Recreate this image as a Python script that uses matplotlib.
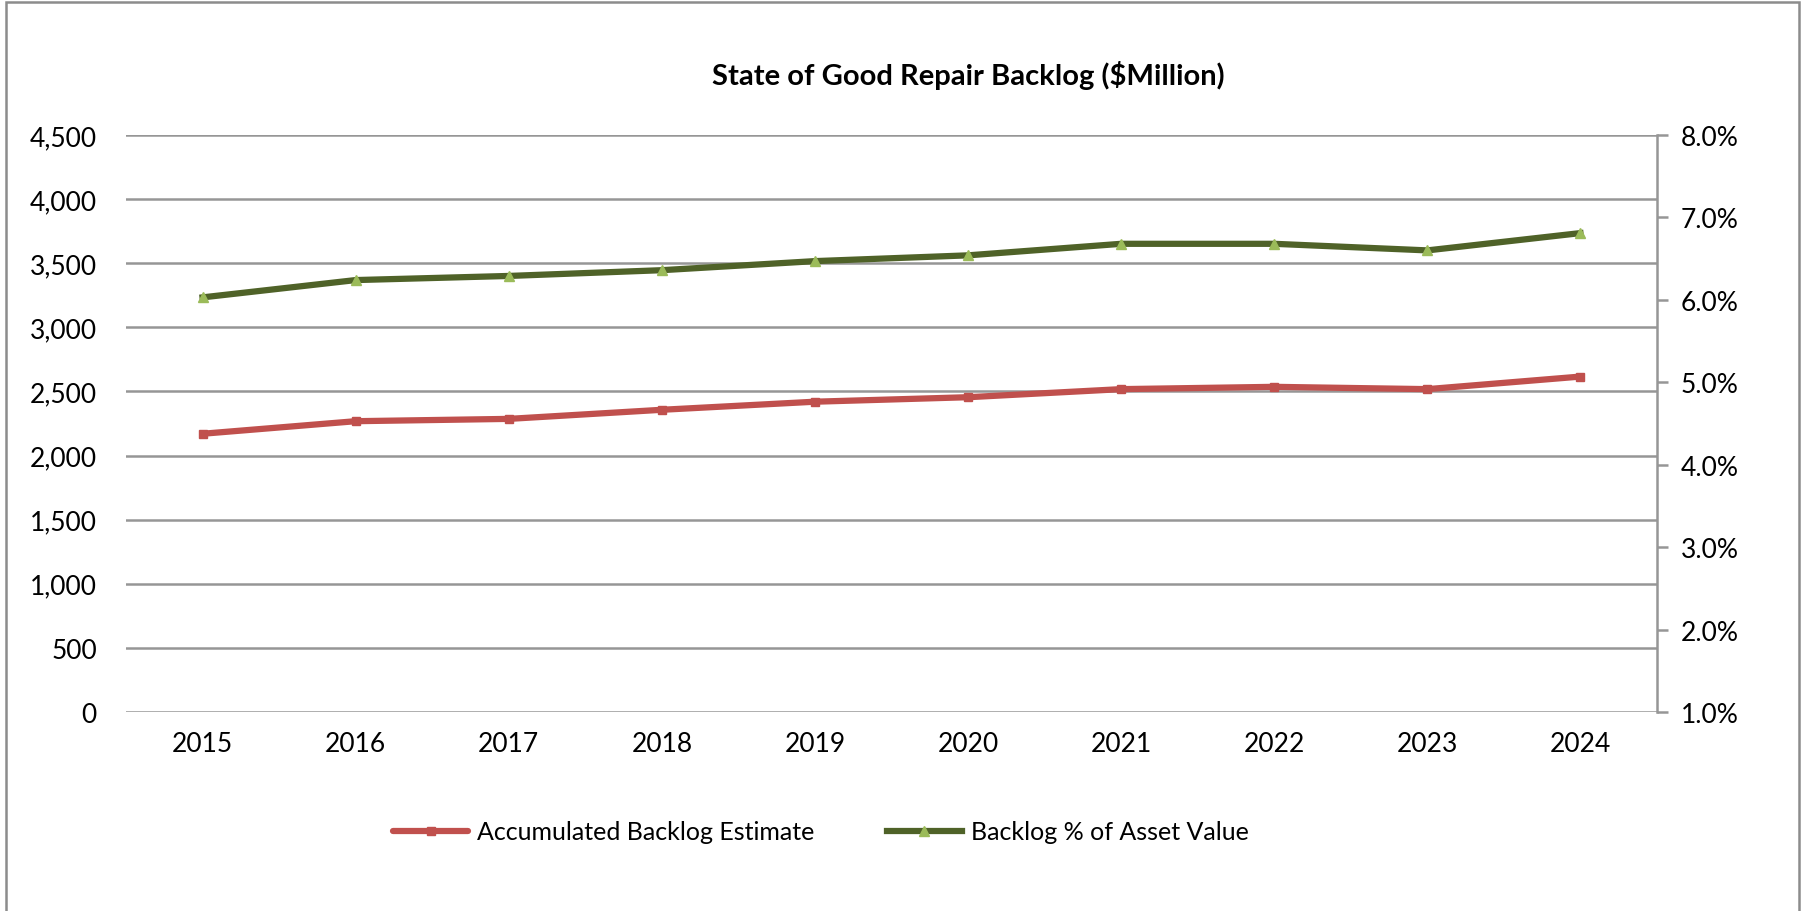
import matplotlib
matplotlib.use("Agg")
import matplotlib.pyplot as plt
from matplotlib.ticker import FuncFormatter, MultipleLocator
from matplotlib.patches import Rectangle

plt.rcParams['font.family'] = ['Lato', 'DejaVu Sans']

# data
years = ['2015', '2016', '2017', '2018', '2019', '2020', '2021', '2022', '2023', '2024']
backlog = [2170, 2268, 2286, 2357, 2420, 2455, 2518, 2536, 2518, 2616]
backlog_pct = [6.03, 6.24, 6.29, 6.36, 6.47, 6.54, 6.68, 6.68, 6.60, 6.81]

red = '#C0504D'
green_line = '#4F6228'
green_marker = '#9BBB59'
grid_gray = '#969696'

fig = plt.figure(figsize=(18.04, 9.12), dpi=100)
ax = fig.add_axes([126/1804, 1-713/912, (1657-126)/1804, (713-136)/912])
ax2 = ax.twinx()

x = list(range(len(years)))
l1, = ax.plot(x, backlog, color=red, lw=4.5, marker='s', markersize=6,
              markerfacecolor=red, markeredgecolor=red, solid_capstyle='round', zorder=3)
l2, = ax2.plot(x, backlog_pct, color=green_line, lw=4.5, marker='^', markersize=7,
               markerfacecolor=green_marker, markeredgecolor=green_marker, zorder=3)

ax.set_xlim(-0.5, len(years) - 0.5)
ax.set_ylim(0, 4500)
ax.yaxis.set_major_locator(MultipleLocator(500))
ax.yaxis.set_major_formatter(FuncFormatter(lambda v, p: f'{v:,.0f}'))
ax2.set_ylim(1, 8)
ax2.yaxis.set_major_locator(MultipleLocator(1))
ax2.yaxis.set_major_formatter(FuncFormatter(lambda v, p: f'{v:.1f}%'))

ax.set_xticks(x)
ax.set_xticklabels(years)
ax.grid(axis='y', color=grid_gray, lw=1.8)
ax.set_axisbelow(True)

for a in (ax, ax2):
    for s in ('top', 'left', 'bottom', 'right'):
        a.spines[s].set_visible(False)
ax2.spines['right'].set_visible(True)
ax2.spines['right'].set_color(grid_gray)
ax2.spines['right'].set_linewidth(1.8)

ax.tick_params(axis='y', length=0, pad=21, labelsize=19)
ax.tick_params(axis='x', length=0, pad=14, labelsize=19)
ax2.tick_params(axis='y', length=8, width=1.8, color=grid_gray, pad=9, labelsize=19)

fig.text(0.537, 1-75/912, 'State of Good Repair Backlog ($Million)',
         ha='center', va='center', fontsize=21, fontweight='bold')

fig.legend([l1, l2], ['Accumulated Backlog Estimate', 'Backlog % of Asset Value'],
           loc='center', bbox_to_anchor=(0.455, 1-833/912), ncol=2, frameon=False,
           fontsize=18, handlelength=3.0, handletextpad=0.35, columnspacing=2.9)

# chart border
fig.patches.append(Rectangle((6/1804, -0.05), (1799-6)/1804, 1.05-3/912,
                             transform=fig.transFigure, fill=False,
                             edgecolor='#8C8C8C', lw=1.8))

fig.savefig('out.png', dpi=100)
